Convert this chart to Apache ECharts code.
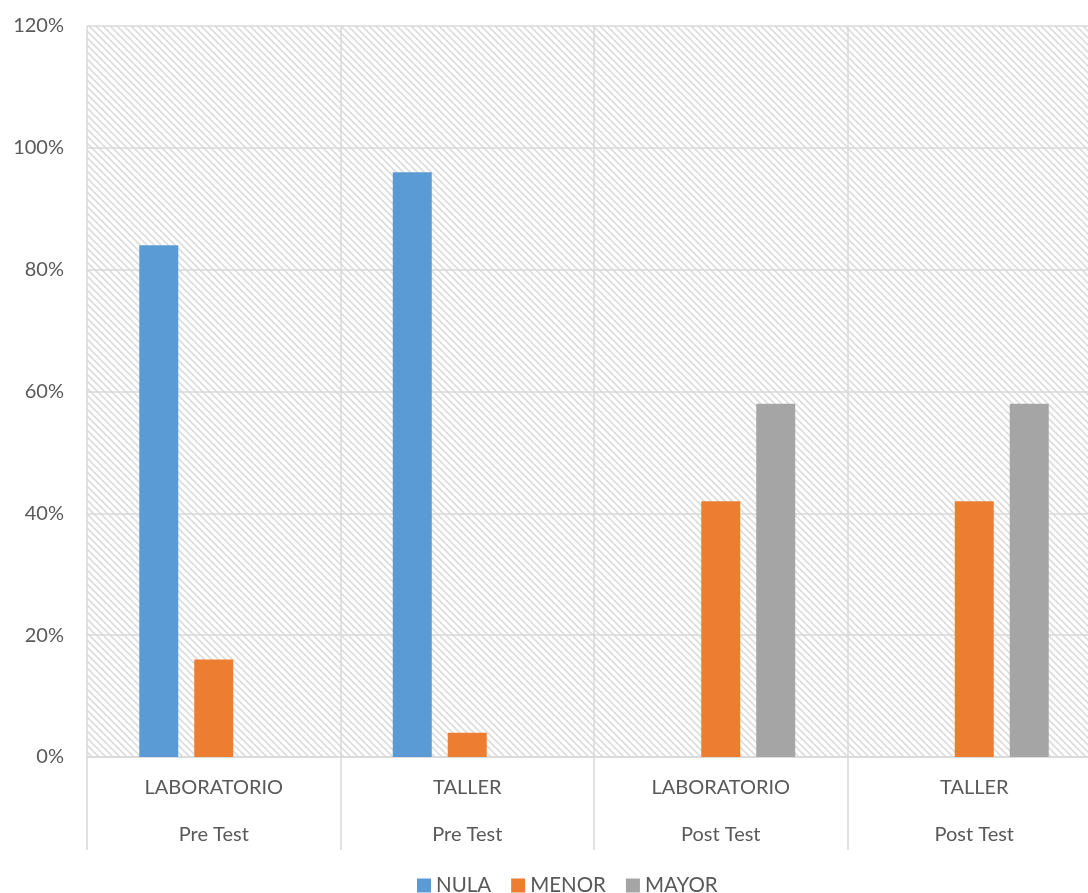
<!DOCTYPE html>
<html><head><meta charset="utf-8">
<script src="https://cdn.jsdelivr.net/npm/echarts@6/dist/echarts.min.js"></script>
<style>html,body{margin:0;padding:0;background:#fff}#c{width:1088px;height:893px}</style>
</head><body><div id="c"></div>
<script>
const categories = ['LABORATORIO', 'TALLER', 'LABORATORIO', 'TALLER'];
const groups = ['Pre Test', 'Pre Test', 'Post Test', 'Post Test'];
const seriesNames = ['NULA', 'MENOR', 'MAYOR'];
const nula = [84, 96, null, null];
const menor = [16, 4, 42, 42];
const mayor = [null, null, 58, 58];
const yTicks = [0, 20, 40, 60, 80, 100, 120];
const colors = ['#5b9bd5', '#ed7d31', '#a5a5a5'];

const FONT = 'Lato';
function hatch() {
  const n = 7;
  const cv = document.createElement('canvas');
  cv.width = n; cv.height = n;
  const g = cv.getContext('2d');
  g.fillStyle = '#ffffff'; g.fillRect(0, 0, n, n);
  g.strokeStyle = '#dcdcdc'; g.lineWidth = 1.6;
  for (const o of [-n, 0, n]) {
    g.beginPath(); g.moveTo(o - 1, -1); g.lineTo(o + n + 1, n + 1); g.stroke();
  }
  return cv;
}
const chart = echarts.init(document.getElementById('c'), null, {renderer: 'canvas'});
const data = [nula, menor, mayor];
chart.setOption({
  animation: false,
  textStyle: {fontFamily: FONT},
  grid: {left: 87, right: -13, top: 26, bottom: 136, show: true, borderWidth: 0,
    containLabel: false, outerBoundsMode: 'none',
    backgroundColor: {image: hatch(), repeat: 'repeat'}},
  legend: {left: 412, top: 870, itemWidth: 14, itemHeight: 14, itemGap: 20,
    icon: 'rect', textStyle: {fontSize: 20.5, color: '#595959', fontFamily: FONT},
    data: seriesNames},
  xAxis: {type: 'category', data: categories.map((c, i) => c + '\n' + groups[i]),
    axisLine: {show: true, lineStyle: {color: '#d9d9d9', width: 1.5}},
    axisTick: {show: true, length: 93, interval: 0, lineStyle: {color: '#d9d9d9', width: 1.5}},
    splitLine: {show: true, interval: 0, lineStyle: {color: '#d9d9d9', width: 1.5}},
    axisLabel: {interval: 0, margin: 7, fontSize: 20, color: '#595959', lineHeight: 47, fontFamily: FONT}},
  yAxis: {type: 'value', min: 0, max: 120, interval: 20,
    axisLine: {show: false}, axisTick: {show: false},
    splitLine: {lineStyle: {color: '#d9d9d9', width: 1.5}},
    axisLabel: {margin: 23, fontSize: 20, color: '#595959', fontFamily: FONT,
      formatter: v => yTicks.includes(v) ? v + '%' : ''}},
  series: seriesNames.map((name, i) => ({
    name, type: 'bar', data: data[i], barWidth: 39, barGap: '41%',
    itemStyle: {color: colors[i]}
  }))
});
</script></body></html>
